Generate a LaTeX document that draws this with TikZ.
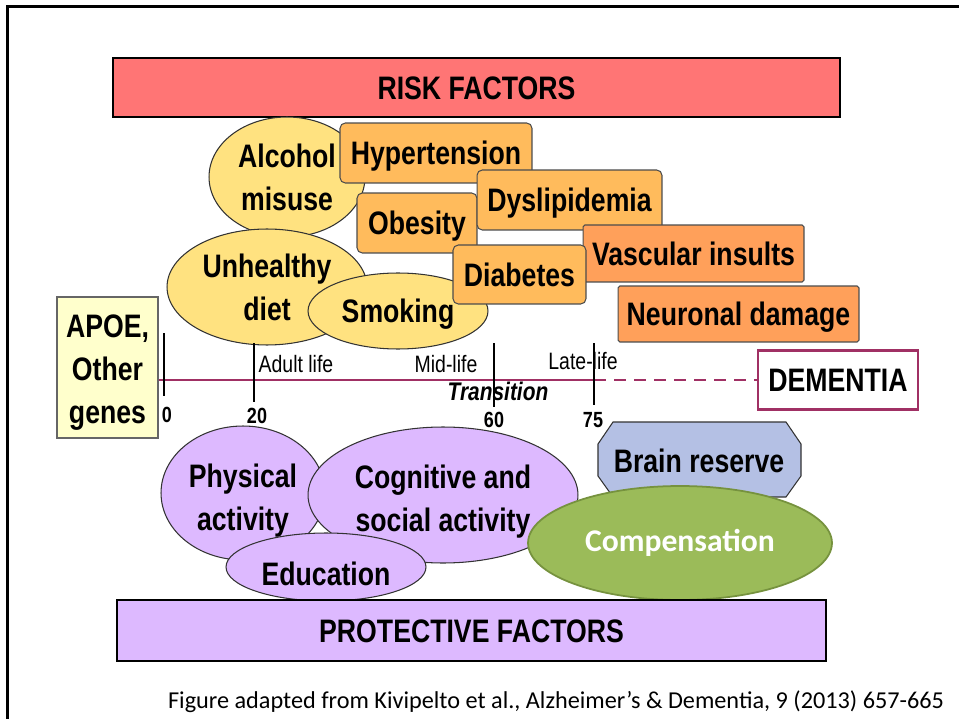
\documentclass[tikz,border=0pt]{standalone}
\usepackage{fontspec}
\setmainfont{Liberation Sans}
\newfontfamily\narrowfont[FakeStretch=0.82]{Liberation Sans}
\newfontfamily\calibrifont{Carlito}
\usetikzlibrary{shapes.geometric}

\definecolor{riskred}{RGB}{255,117,117}
\definecolor{lifeyellow}{RGB}{255,226,128}
\definecolor{boxorange}{RGB}{255,187,92}
\definecolor{damageorange}{RGB}{255,160,90}
\definecolor{protpurple}{RGB}{221,185,255}
\definecolor{brainblue}{RGB}{180,192,228}
\definecolor{compgreen}{RGB}{155,187,89}
\definecolor{compedge}{RGB}{118,146,62}
\definecolor{apoeyellow}{RGB}{255,255,204}
\definecolor{demmaroon}{RGB}{160,48,100}

\tikzset{
  bigfont/.style={font=\narrowfont\bfseries\fontsize{18.5}{24.5}\selectfont},
  captext/.style={text height=13.2pt, text depth=0pt},
  factorbar/.style={rectangle, draw=black, line width=1.3pt, bigfont, captext, inner sep=0pt},
  riskbubble/.style={ellipse, draw=black!80, line width=0.6pt, fill=lifeyellow, bigfont, align=center, inner sep=0pt},
  riskbox/.style={rectangle, rounded corners=3pt, draw=black!70, line width=0.6pt, fill=boxorange, bigfont, captext, inner sep=0pt},
  damagebox/.style={riskbox, rounded corners=1pt, fill=damageorange},
  protbubble/.style={riskbubble, fill=protpurple},
  agelabel/.style={font=\narrowfont\fontsize{13.5}{16}\selectfont, inner sep=0pt},
  agenum/.style={font=\narrowfont\bfseries\fontsize{12.5}{15}\selectfont, inner sep=0pt},
  timeline/.style={demmaroon, line width=1.2pt},
  agetick/.style={black, line width=0.9pt},
}

\begin{document}
\begin{tikzpicture}[x=0.02cm, y=-0.02cm]
    \useasboundingbox (0,0) rectangle (959,719);

    %Slide frame
    \draw[line width=1.7pt] (959,6.5) -- (7.5,6.5) -- (7.5,719);

    %Risk Factors bar
    \node[factorbar, fill=riskred, minimum width=14.54cm, minimum height=1.18cm] (risk) at (476.5,87.5) {RISK FACTORS};

    %Life style bubbles
    \node[riskbubble, minimum width=3.12cm, minimum height=2.4cm] (alcohol) at (287,177) {Alcohol\\misuse};
    \node[riskbubble, minimum width=4.0cm, minimum height=2.32cm] (unhealthy) at (267,287) {Unhealthy\\diet};
    \node[riskbubble, captext, minimum width=3.6cm, minimum height=1.52cm] (smoking) at (398,311) {Smoking};

    %Vascular risk boxes
    \node[riskbox, minimum width=3.84cm, minimum height=1.2cm] (hypertension) at (436,153) {Hypertension};
    \node[riskbox, minimum width=2.4cm, minimum height=1.2cm] (obesity) at (417,223) {Obesity};
    \node[riskbox, minimum width=3.7cm, minimum height=1.2cm] (dyslipidemia) at (569.5,200) {Dyslipidemia};
    \node[damagebox, minimum width=4.42cm, minimum height=1.14cm] (vascular) at (693.5,253.5) {Vascular insults};
    \node[riskbox, minimum width=2.66cm, minimum height=1.18cm] (diabetes) at (519.5,274.5) {Diabetes};
    \node[damagebox, minimum width=4.82cm, minimum height=1.12cm] (neuronal) at (738.5,314) {Neuronal damage};

    %Genes and dementia
    \node[rectangle, draw=black!60, line width=0.6pt, fill=apoeyellow, bigfont, align=center, inner sep=0pt, minimum width=2.02cm, minimum height=2.82cm] (apoe) at (107.5,367.5) {\rule{0pt}{19pt}APOE,\\Other\\genes};
    \node[rectangle, draw=demmaroon, line width=1.2pt, fill=white, bigfont, captext, inner sep=0pt, minimum width=3.2cm, minimum height=1.18cm] (dementia) at (838,380) {DEMENTIA};

    %Time line
    \coordinate (tick0) at (164,380);
    \coordinate (tick20) at (254,380);
    \coordinate (tick60) at (494,380);
    \coordinate (tick75) at (594,380);
    \draw[timeline] (apoe.east |- tick0) -- (tick75);
    \draw[timeline, dash pattern=on 6.8pt off 4.6pt] (tick75) -- (dementia.west);
    \draw[agetick] (164,333) -- (164,396);
    \draw[agetick] (254,343) -- (254,402);
    \draw[agetick] (494,343) -- (494,407);
    \draw[agetick] (594,343) -- (594,405);

    \node[agenum] (age0) at (167,415) {0};
    \node[agenum] (age20) at (257,416) {20};
    \node[agenum] (age60) at (494,420) {60};
    \node[agenum] (age75) at (593,420) {75};
    \node[agelabel] (adult) at (296,364) {Adult life};
    \node[agelabel] (midlife) at (446,364) {Mid-life};
    \node[agelabel] (latelife) at (583,361) {Late-life};
    \node[agelabel, font=\narrowfont\bfseries\itshape\fontsize{14.5}{16}\selectfont] (transition) at (498,391) {Transition};

    %Protective bubbles
    \node[protbubble, minimum width=3.28cm, minimum height=2.68cm] (physical) at (243,493) {\rule{0pt}{22pt}Physical\\activity};
    \node[protbubble, minimum width=5.4cm, minimum height=2.72cm] (cognitive) at (443,495) {\rule{0pt}{20.5pt}Cognitive and\\social activity};
    \node[protbubble, text height=21pt, text depth=0pt, minimum width=4.0cm, minimum height=1.36cm] (education) at (326,567) {Education};

    %Brain reserve octagon
    \filldraw[fill=brainblue, draw=black!80, line width=0.6pt] (613,422) -- (786,422) -- (801,444) -- (801,476) -- (786,497) -- (613,497) -- (598,476) -- (598,444) -- cycle;
    \node[bigfont, captext, inner sep=0pt] (brainreserve) at (699,461) {Brain reserve};
    \node[ellipse, draw=compedge, line width=1pt, fill=compgreen, text=white, font=\calibrifont\bfseries\fontsize{18}{22}\selectfont, inner sep=0pt, minimum width=6.08cm, minimum height=2.28cm] (compensation) at (680,543) {Compensation};

    %Protective Factors bar
    \node[factorbar, fill=protpurple, minimum width=14.18cm, minimum height=1.22cm] (protective) at (471.5,630.5) {PROTECTIVE FACTORS};

    \node[font=\calibrifont\fontsize{13.8}{16}\selectfont, inner sep=0pt] (source) at (556,702) {Figure adapted from Kivipelto et al., Alzheimer’s \& Dementia, 9 (2013) 657-665};
\end{tikzpicture}
\end{document}
